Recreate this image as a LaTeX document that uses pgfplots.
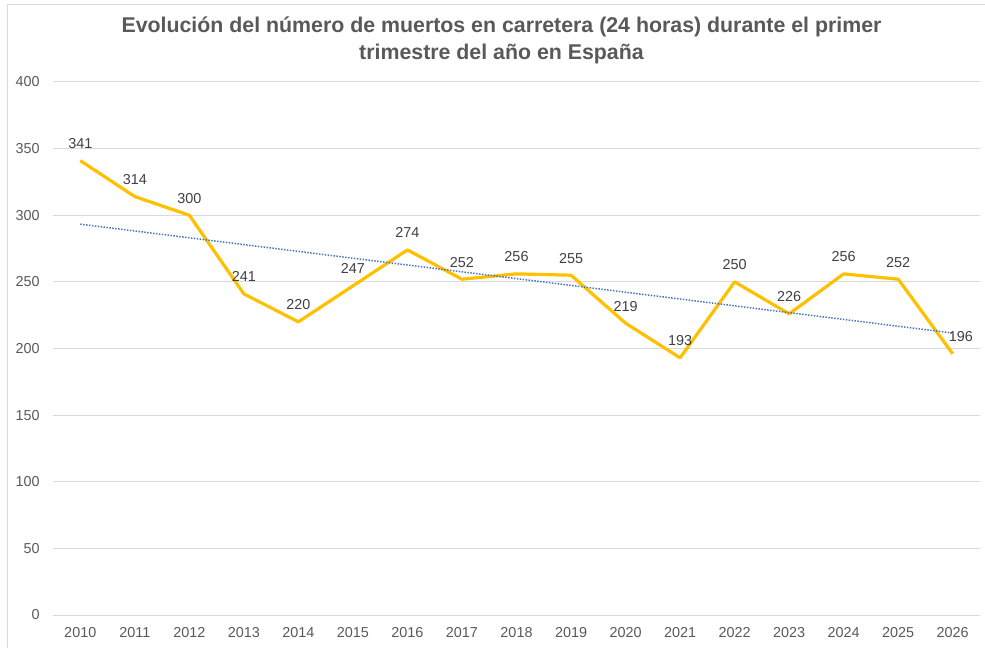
\documentclass[border=0pt]{standalone}
\usepackage{fontspec}
\setmainfont{Liberation Sans}
\usepackage{pgfplots}
\pgfplotsset{compat=1.18}
\definecolor{gold}{HTML}{FFC000}
\definecolor{trend}{HTML}{4472C4}
\definecolor{gridc}{HTML}{D9D9D9}
\definecolor{txt}{HTML}{595959}
\definecolor{lbl}{HTML}{404040}
\begin{document}
\begin{tikzpicture}[x=0.75pt,y=0.75pt]
\path[use as bounding box] (0,0) rectangle (985,647);
\draw[gridc, line width=0.75pt] (7,-5) -- (7,642.5) -- (990,642.5);
\node[text=txt, font=\bfseries\fontsize{16}{20}\selectfont, align=center] at (501.5,606.5) {Evolución del número de muertos en carretera (24 horas) durante el primer\\trimestre del año en España};
\begin{axis}[at={(39.75pt,24pt)}, anchor=south west, scale only axis,
  width=695.25pt, height=399.75pt,
  xmin=-0.5, xmax=16.5, ymin=0, ymax=400,
  ytick={0,50,...,400}, xtick={0,...,16},
  xticklabels={2010,2011,2012,2013,2014,2015,2016,2017,2018,2019,2020,2021,2022,2023,2024,2025,2026},
  axis line style={draw=none}, major tick length=0pt,
  ymajorgrids, grid style={gridc, line width=0.75pt},
  ticklabel style={font=\fontsize{10.8}{13}\selectfont, text=txt},
  yticklabel style={inner sep=0pt, xshift=-9.75pt},
  xticklabel style={inner sep=0pt, anchor=north, yshift=-9pt},
  /pgf/number format/assume math mode=true,
  clip=false]
\addplot[gold, line width=2.4pt, line join=round, mark=none] coordinates {
(0,341) (1,314) (2,300) (3,241) (4,220) (5,247) (6,274) (7,252) (8,256)
(9,255) (10,219) (11,193) (12,250) (13,226) (14,256) (15,252) (16,196)};
\addplot[trend, line width=1.1pt, dash pattern=on 1.1pt off 1.1pt, mark=none] coordinates {(0,293.3) (16,211.6)};
\addplot[draw=none, mark=none, nodes near coords, point meta=explicit symbolic,
  nodes near coords style={anchor=base, yshift=9pt, inner sep=0pt, font=\fontsize{10.8}{13}\selectfont, text=lbl}] coordinates {
(0,341) [341] (1,314) [314] (2,300) [300] (3,241) [241] (4,220) [220] (5,247) [247]
(6,274) [274] (7,252) [252] (8,256) [256] (9,255) [255] (10,219) [219] (11,193) [193]
(12,250) [250] (13,226) [226] (14,256) [256] (15,252) [252] (16.15,196) [196]};
\end{axis}
\end{tikzpicture}
\end{document}
